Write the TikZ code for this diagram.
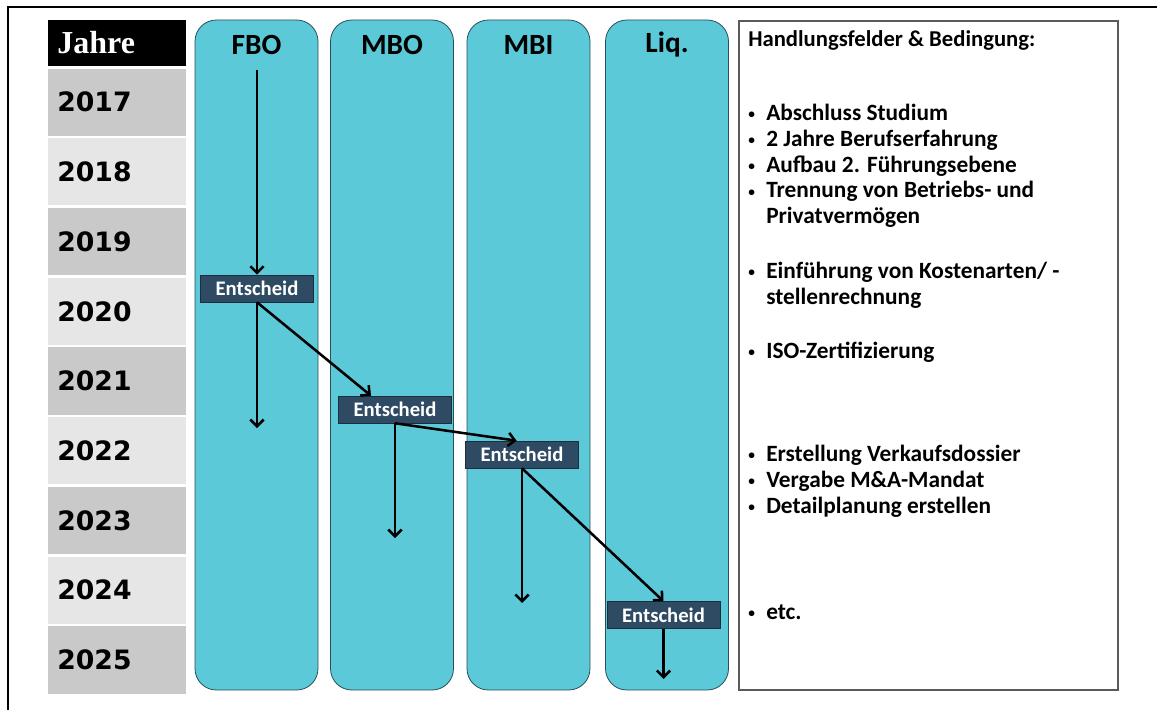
\documentclass[tikz,border=0pt]{standalone}
\usepackage{fontspec}
\setmainfont{Carlito}
\newfontfamily\yearfont{DejaVu Sans}
\newfontfamily\headserif{Liberation Serif}
\usetikzlibrary{positioning, arrows.meta}
\definecolor{lanecyan}{RGB}{91,201,216}
\definecolor{laneline}{RGB}{40,80,90}
\definecolor{rowdark}{RGB}{201,201,201}
\definecolor{rowlight}{RGB}{230,230,230}
\definecolor{decfill}{RGB}{47,75,100}
\definecolor{decline}{RGB}{28,45,62}
\definecolor{boxgray}{RGB}{90,90,90}
\newcommand{\bulletitem}[1]{\makebox[13.5pt][l]{\raisebox{1.2pt}{\fontsize{10}{10}\selectfont\textbullet}}#1}
\newcommand{\bulletcont}[1]{\hspace*{13.5pt}#1}

\begin{document}
\begin{tikzpicture}[x=0.75pt, y=-0.75pt, node distance=1.5pt, >={Straight Barb[length=5pt, width=10pt]},
  yearrow/.style={minimum height=50.4pt, text width=89.5pt, inner xsep=7pt, align=left,
    font=\yearfont\bfseries\fontsize{20}{24}\selectfont},
  darkrow/.style={yearrow, fill=rowdark},
  lightrow/.style={yearrow, fill=rowlight},
  lane/.style={draw=laneline, fill=lanecyan, line width=0.6pt, rounded corners=16pt,
    minimum width=92.25pt, minimum height=502.5pt},
  lanehead/.style={font=\bfseries\fontsize{22}{26}\selectfont},
  decision/.style={draw=decline, fill=decfill, text=white, inner sep=0pt,
    minimum width=84.75pt, minimum height=20.25pt, font=\bfseries\fontsize{15.5}{17}\selectfont},
  infotext/.style={anchor=base west, align=left, inner sep=0pt,
    font=\bfseries\fontsize{17.5}{19.35}\selectfont},
  flow/.style={->, line width=1.9pt}]
  \useasboundingbox (0,0) rectangle (1157,710);
  \draw[line width=1.5pt] (8,710) -- (8,7) -- (1157,7);

  % year column
  \node[fill=black, text=white, minimum height=34.5pt, text width=89.5pt, inner xsep=7pt, align=left,
    font=\headserif\bfseries\fontsize{24}{28}\selectfont] (jahre) at (117,43) {Jahre};
  \node[darkrow, below=of jahre]   (y2017) {2017};
  \node[lightrow, below=of y2017]  (y2018) {2018};
  \node[darkrow, below=of y2018]   (y2019) {2019};
  \node[lightrow, below=of y2019]  (y2020) {2020};
  \node[darkrow, below=of y2020]   (y2021) {2021};
  \node[lightrow, below=of y2021]  (y2022) {2022};
  \node[darkrow, below=of y2022]   (y2023) {2023};
  \node[lightrow, below=of y2023]  (y2024) {2024};
  \node[darkrow, below=of y2024]   (y2025) {2025};

  % lanes
  \node[lane] (fbo) at (256.5,355) {};
  \node[lane] (mbo) at (392,355) {};
  \node[lane] (mbi) at (528.5,355) {};
  \node[lane] (liq) at (667,355) {};
  \node[lanehead] (fbohead) at (fbo.north |- 0,45) {FBO};
  \node[lanehead] (mbohead) at (mbo.north |- 0,45) {MBO};
  \node[lanehead] (mbihead) at (mbi.north |- 0,45) {MBI};
  \node[lanehead] (liqhead) at (liq.north |- 0,45) {Liq.};

  % right box (base anchor = last line)
  \node[draw=boxgray, fill=white, line width=0.8pt, minimum width=284.25pt, minimum height=501.75pt] (infobox) at (928.5,355.5) {};
  \node[infotext, font=\bfseries\fontsize{17}{19.35}\selectfont] (infotitle) at (748,47) {Handlungsfelder \& Bedingung:};
  \node[infotext] (infoone) at (748,223.7) {\bulletitem{Abschluss Studium}\\
    \bulletitem{2 Jahre Berufserfahrung}\\
    \bulletitem{Aufbau 2. Führungsebene}\\
    \bulletitem{Trennung von Betriebs- und}\\
    \bulletcont{Privatvermögen}};
  \node[infotext] (infotwo) at (748,304.3) {\bulletitem{Einführung von Kostenarten/ -}\\
    \bulletcont{stellenrechnung}};
  \node[infotext] (infothree) at (748,358.5) {\bulletitem{ISO-Zertifizierung}};
  \node[infotext] (infofour) at (748,513.1) {\bulletitem{Erstellung Verkaufsdossier}\\
    \bulletitem{Vergabe M\&A-Mandat}\\
    \bulletitem{Detailplanung erstellen}};
  \node[infotext] (infofive) at (748,619) {\bulletitem{etc.}};

  % decisions
  \node[decision] (decfbo) at (257,288.5) {Entscheid};
  \node[decision] (decmbo) at (395,409.5) {Entscheid};
  \node[decision] (decmbi) at (522,454.5) {Entscheid};
  \node[decision] (decliq) at (663.5,615) {Entscheid};

  \coordinate (fbostart) at (257,70);
  \coordinate (fboend) at (257,428);
  \coordinate (mboend) at (395,538);
  \coordinate (mbiend) at (522,603);
  \coordinate (liqend) at (663.5,679);

  \draw[flow] (fbostart) -- (decfbo);
  \draw[flow] (decfbo.south) -- (fboend);
  \draw[flow] (decfbo.south) -- ([xshift=-18pt]decmbo.north);
  \draw[flow] (decmbo.south) -- (mboend);
  \draw[flow] (decmbo.south) -- ([xshift=-4pt]decmbi.north);
  \draw[flow] (decmbi.south) -- (mbiend);
  \draw[flow] (decmbi.south) -- (decliq.north);
  \draw[flow] (decliq.south) -- (liqend);
\end{tikzpicture}
\end{document}
